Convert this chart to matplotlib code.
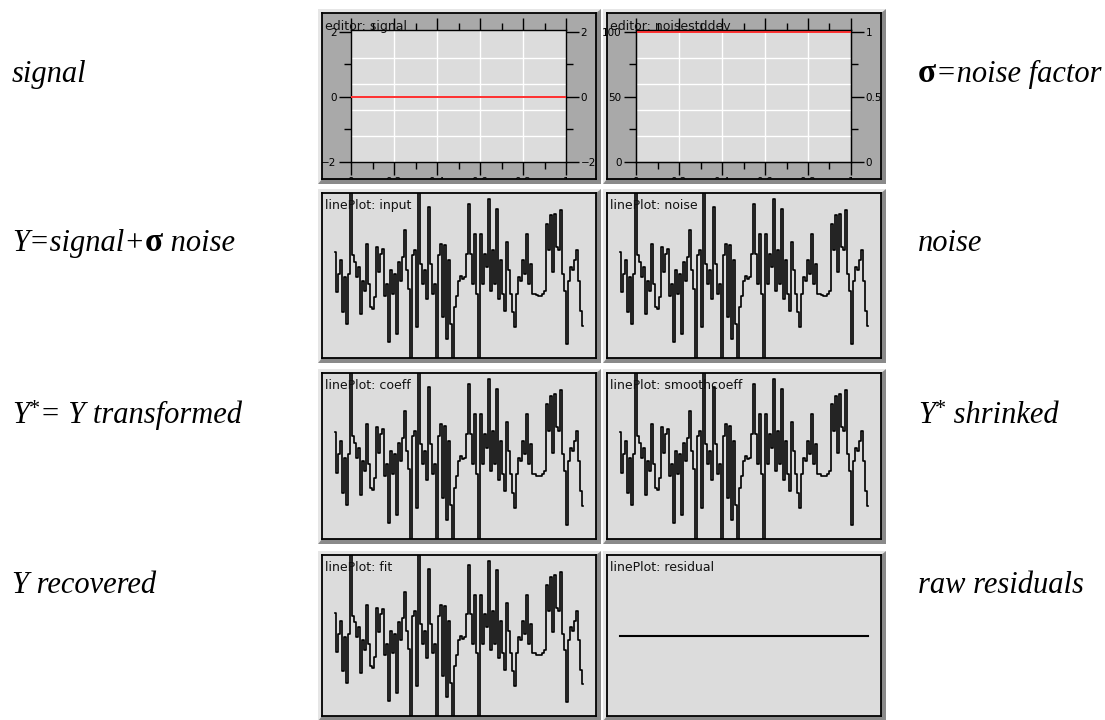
import numpy as np
import matplotlib
matplotlib.use("Agg")
import matplotlib.pyplot as plt
from matplotlib.ticker import MultipleLocator, FuncFormatter
from matplotlib.patches import Polygon

W, H = 1105, 720

# waveform (same curve in input/noise/coeff/smoothcoeff/fit)
wave = [0.70, -0.50, 0.05, 0.45, -1.10, -0.05, -1.45, 0.05, 2.95, 0.60,
        0.40, -0.05, 0.25, -1.15, -0.15, -0.45, 0.95, -0.25, -0.95, -1.00,
        -0.65, 0.85, 0.10, 0.65, 0.80, -0.60, -0.25, -2.00, 0.15, -0.55,
        0.05, -1.75, 0.40, -0.15, 0.55, 1.35, 0.15, -0.40, -2.65, 0.60,
        0.75, -1.55, 2.95, 0.35, -0.25, 0.15, -0.70, 2.05, 0.35, -0.55,
        -0.25, -2.65, 0.60, 0.95, -1.25, 0.90, -1.90, 0.45, -1.45, -2.65,
        -0.95, -0.60, -0.15, 0.00, -0.10, -0.05, 0.65, 2.15, 0.65, -0.25,
        1.25, -0.55, -2.65, 1.25, -0.25, 0.65, 0.25, 2.30, -0.45, 0.75,
        -0.25, 2.00, -0.70, 0.45, -0.55, -1.05, 1.00, 0.15, -0.55, -1.10,
        -1.55, -0.55, -0.05, -0.15, 0.45, 0.05, 1.25, -0.25, 0.35, -0.55,
        -0.55, -0.59, -0.60, -0.60, -0.55, -0.45, 1.55, 0.75, 1.80, 0.10,
        1.85, 0.85, 0.75, 1.95, 0.05, -0.45, -2.05, -0.15, 0.25, 0.15,
        0.45, 0.75, -0.15, -1.05, -1.50]
residual = [0.0] * len(wave)

signal_x = [0.0, 1.0]
signal_y = [0.0, 0.0]
noise_x = [0.0, 1.0]
noise_y = [100.0, 100.0]

plot_names = [["input", "noise"], ["coeff", "smoothcoeff"], ["fit", "residual"]]

left_labels = [
    [("signal", "i")],
    [("Y=signal+", "i"), ("\u03c3", "n"), (" noise", "i")],
    [("Y", "i"), ("*", "sup"), ("= Y transformed", "i")],
    [("Y recovered", "i")],
]
right_labels = [
    [("\u03c3", "n"), ("=noise factor", "i")],
    [("noise", "i")],
    [("Y", "i"), ("*", "sup"), (" shrinked", "i")],
    [("raw residuals", "i")],
]

cols = [(322, 596), (607, 881)]
rows = [(13, 179), (193, 358), (373, 539), (555, 716)]
baselines = [82, 251, 423, 593]

fig = plt.figure(figsize=(W / 100, H / 100), dpi=100)
fig.patch.set_facecolor("white")

bg = fig.add_axes([0, 0, 1, 1])
bg.set_xlim(0, W)
bg.set_ylim(H, 0)
bg.axis("off")


def px_axes(x0, y0, x1, y1):
    return fig.add_axes([x0 / W, 1 - y1 / H, (x1 - x0) / W, (y1 - y0) / H])


def bevel(x0, y0, x1, y1):
    light = [(x0 - 4, y1 + 5), (x0 - 4, y0 - 4), (x1 + 5, y0 - 4),
             (x1, y0), (x0, y0), (x0, y1)]
    dark = [(x0 - 4, y1 + 5), (x1 + 5, y1 + 5), (x1 + 5, y0 - 4),
            (x1, y0), (x1, y1), (x0, y1)]
    bg.add_patch(Polygon(light, closed=True, fc="#e6e6e6", ec="none"))
    bg.add_patch(Polygon(dark, closed=True, fc="#8a8a8a", ec="none"))


def frame_axes(x0, y0, x1, y1, face):
    ax = px_axes(x0, y0, x1, y1)
    ax.set_facecolor(face)
    ax.set_xticks([])
    ax.set_yticks([])
    for s in ax.spines.values():
        s.set_color("black")
        s.set_linewidth(1.3)
    return ax


def line_plot(x0, y0, x1, y1, name, values, ylim):
    ax = frame_axes(x0, y0, x1, y1, "#dcdcdc")
    idx = np.arange(len(values))
    lw = 1.5 if name == "residual" else 1.2
    ax.plot(idx, values, drawstyle="steps-mid", color="black", lw=lw)
    ax.set_xlim(-6.5, 130.5)
    ax.set_ylim(*ylim)
    fig.text((x0 + 3) / W, 1 - (y0 + 6) / H, "linePlot: " + name,
             fontsize=9, va="top", ha="left", color="#111111")


def fmt(v, p):
    return f"{v:g}"


def editor(x0, y0, x1, y1, ix0, ix1, title, xs, ys, ylim, major, minor,
           grid_y, right_lim=None, right_major=None, right_minor=None):
    fr = frame_axes(x0, y0, x1, y1, "#a9a9a9")
    ax = px_axes(ix0, 30, ix1, 162)
    ax.set_facecolor("#dcdcdc")
    for s in ax.spines.values():
        s.set_color("black")
        s.set_linewidth(1.0)
    ax.set_xlim(0, 1)
    ax.set_ylim(*ylim)
    ax.xaxis.set_major_locator(MultipleLocator(0.2))
    ax.xaxis.set_minor_locator(MultipleLocator(0.1))
    ax.xaxis.set_major_formatter(FuncFormatter(fmt))
    ax.yaxis.set_major_locator(MultipleLocator(major))
    ax.yaxis.set_minor_locator(MultipleLocator(minor))
    ax.tick_params(which="both", direction="out", top=True, bottom=True,
                   left=True, right=right_lim is None, labelsize=7.5,
                   labelright=right_lim is None, width=1.0, color="black",
                   pad=1.5)
    ax.tick_params(which="major", length=9)
    ax.tick_params(which="minor", length=5)
    for v in [0.2, 0.4, 0.6, 0.8]:
        ax.axvline(v, color="white", lw=1.0, zorder=0.5)
    for v in grid_y:
        ax.axhline(v, color="white", lw=1.0, zorder=0.5)
    ax.plot(xs, ys, color="#ff3030", lw=1.4, zorder=3)
    for lab in ax.get_xticklabels():
        lab.set_clip_on(True)
        lab.set_clip_box(fr.bbox)
    if right_lim is not None:
        ax2 = ax.twinx()
        ax2.set_ylim(*right_lim)
        ax2.yaxis.set_major_locator(MultipleLocator(right_major))
        ax2.yaxis.set_minor_locator(MultipleLocator(right_minor))
        ax2.yaxis.set_major_formatter(FuncFormatter(fmt))
        ax2.tick_params(which="both", direction="out", labelsize=7.5,
                        width=1.0, color="black", pad=1.5)
        ax2.tick_params(which="major", length=9)
        ax2.tick_params(which="minor", length=5)
    fig.text((x0 + 3) / W, 1 - 20 / H, title, fontsize=9, va="top",
             ha="left", color="#111111", zorder=10)


for (r0, r1) in rows:
    for (c0, c1) in cols:
        bevel(c0, r0, c1, r1)

# small headroom above the top value, as in the applet
editor(322, 13, 596, 179, 351, 566, "editor: signal", signal_x, signal_y,
       (-2, 2.06), 2, 1, [-1.2, -0.4, 0.4, 1.2])
editor(607, 13, 881, 179, 636, 851, "editor: noisestddev", noise_x, noise_y,
       (0, 101.5), 50, 25, [20, 40, 60, 80], (0, 1.015), 0.5, 0.25)

for r, names in enumerate(plot_names):
    y0, y1 = rows[r + 1]
    for c, name in enumerate(names):
        x0, x1 = cols[c]
        if name == "residual":
            line_plot(x0, y0, x1, y1, name, residual, (-1, 1))
        else:
            line_plot(x0, y0, x1, y1, name, wave, (-2.47, 2.47))

renderer = fig.canvas.get_renderer()


def text_run(x, base, pieces, size=22):
    for s, kind in pieces:
        if kind == "sup":
            t = fig.text(x / W, 1 - (base - 9) / H, s, fontsize=16,
                         family="Liberation Serif", style="normal",
                         va="baseline", ha="left")
        elif kind == "n":
            t = fig.text(x / W, 1 - base / H, s, fontsize=size + 2,
                         family="Liberation Serif", weight="bold",
                         va="baseline", ha="left")
        else:
            t = fig.text(x / W, 1 - base / H, s, fontsize=size,
                         family="Liberation Serif", style="italic",
                         va="baseline", ha="left")
        x += t.get_window_extent(renderer).width


for i in range(4):
    text_run(12, baselines[i], left_labels[i])
    text_run(918, baselines[i], right_labels[i])

fig.savefig("out.png", dpi=100)
